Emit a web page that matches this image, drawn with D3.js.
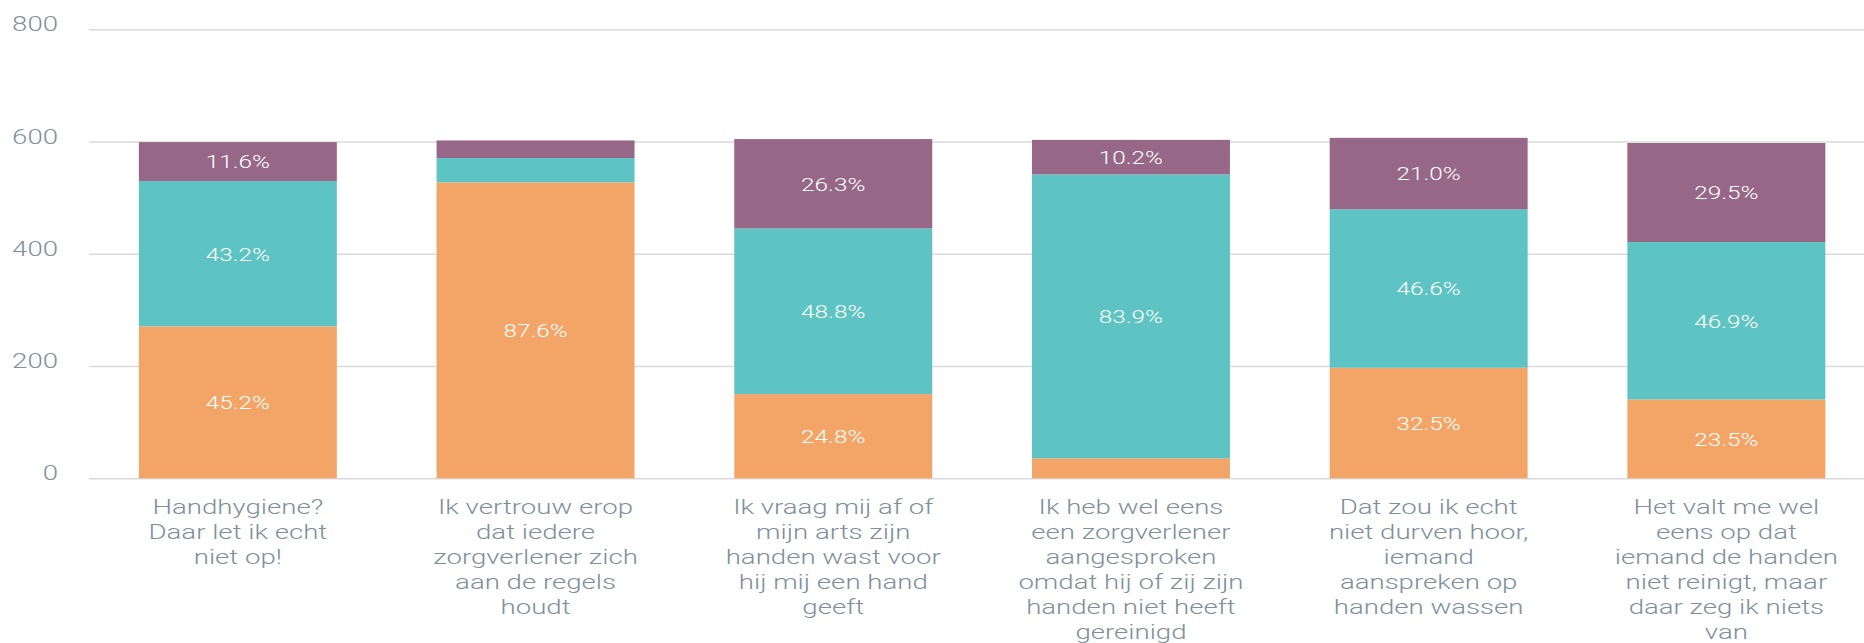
<!DOCTYPE html>
<html>
<head>
<meta charset="utf-8">
<script src="https://cdn.jsdelivr.net/npm/d3@7"></script>
<style>
  html, body { margin: 0; padding: 0; background: #ffffff; }
  svg { display: block; }
</style>
</head>
<body>
<svg id="chart" width="1864" height="643"></svg>
<script>
// ---- data ----
const categories = [
  "Handhygiene?\nDaar let ik echt\nniet op!",
  "Ik vertrouw erop\ndat iedere\nzorgverlener zich\naan de regels\nhoudt",
  "Ik vraag mij af of\nmijn arts zijn\nhanden wast voor\nhij mij een hand\ngeeft",
  "Ik heb wel eens\neen zorgverlener\naangesproken\nomdat hij of zij zijn\nhanden niet heeft\ngereinigd",
  "Dat zou ik echt\nniet durven hoor,\niemand\naanspreken op\nhanden wassen",
  "Het valt me wel\neens op dat\niemand de handen\nniet reinigt, maar\ndaar zeg ik niets\nvan"
];
const totals      = [599, 602, 605, 603, 606, 598];
const pctOrange   = [45.2, 87.6, 24.8, 5.9, 32.5, 23.5];
const pctTeal     = [43.2, 7.2, 48.8, 83.9, 46.6, 46.9];
const pctPurple   = [11.6, 5.2, 26.3, 10.2, 21.0, 29.5];
const seriesKeys  = ["orange", "teal", "purple"];
const seriesColors = ["#f3a568", "#5dc4c3", "#976788"];
const yTicks      = [0, 200, 400, 600, 800];

// ---- layout ----
const W = 1864, H = 643;
const plotLeft = 89, y0 = 478.3, yTop = 29.3;
const step = 297.7;
const FONT = "Roboto, 'Liberation Sans', Arial, sans-serif";
const sx = 1.38; // horizontal text stretch

const svg = d3.select("#chart");

const x = d3.scaleBand()
  .domain(d3.range(categories.length))
  .range([plotLeft, plotLeft + step * categories.length])
  .paddingInner(0.335)
  .paddingOuter(0.1675);

const y = d3.scaleLinear().domain([0, 800]).range([y0, yTop]);

const pcts = { orange: pctOrange, teal: pctTeal, purple: pctPurple };
const rows = categories.map((c, i) => {
  const r = { i };
  seriesKeys.forEach(k => { r[k] = pcts[k][i] * totals[i] / 100; });
  return r;
});
const stacked = d3.stack().keys(seriesKeys)(rows);
const color = d3.scaleOrdinal().domain(seriesKeys).range(seriesColors);

// ---- y axis with gridlines ----
const yAxis = d3.axisLeft(y)
  .tickValues(yTicks)
  .tickSize(-(W - plotLeft))
  .tickFormat(d3.format("d"));

const gy = svg.append("g")
  .attr("transform", `translate(${plotLeft},0)`)
  .call(yAxis);
gy.select(".domain").remove();
gy.selectAll(".tick line")
  .attr("stroke", "#dadada")
  .attr("stroke-width", 1.6);
gy.selectAll(".tick text")
  .attr("x", null)
  .attr("dy", null)
  .attr("text-anchor", "end")
  .attr("transform", `translate(-31,1.5) scale(${sx},1)`)
  .attr("fill", "#80919e")
  .attr("font-family", FONT)
  .attr("font-weight", 300)
  .attr("font-size", 20);

// ---- bars ----
const layers = svg.append("g").selectAll("g.layer")
  .data(stacked)
  .join("g")
  .attr("class", "layer")
  .attr("fill", d => color(d.key));

layers.selectAll("rect")
  .data(d => d.map(s => ({ s, key: d.key })))
  .join("rect")
  .attr("x", d => x(d.s.data.i))
  .attr("width", x.bandwidth())
  .attr("y", d => y(d.s[1]))
  .attr("height", d => y(d.s[0]) - y(d.s[1]));

// ---- value labels ----
const labelG = svg.append("g");
stacked.forEach(layer => {
  layer.forEach(s => {
    const p = pcts[layer.key][s.data.i];
    if (p < 10) return;
    const cx = x(s.data.i) + x.bandwidth() / 2;
    const cy = (y(s[0]) + y(s[1])) / 2;
    labelG.append("text")
      .attr("transform", `translate(${cx},${cy}) scale(${sx - 0.1},1)`)
      .attr("dy", "0.36em")
      .attr("text-anchor", "middle")
      .attr("fill", "#ffffff")
      .attr("font-family", FONT)
      .attr("font-weight", 300)
      .attr("font-size", 19)
      .text(p.toFixed(1) + "%");
  });
});

// ---- category labels ----
const catG = svg.append("g");
categories.forEach((c, i) => {
  const cx = x(i) + x.bandwidth() / 2;
  const t = catG.append("text")
    .attr("transform", `translate(${cx},${y0 + 36}) scale(${sx},1)`)
    .attr("text-anchor", "middle")
    .attr("fill", "#7f8f9c")
    .attr("font-family", FONT)
    .attr("font-weight", 300)
    .attr("font-size", 20);
  c.split("\n").forEach((line, j) => {
    t.append("tspan")
      .attr("x", 0)
      .attr("y", j * 25)
      .text(line);
  });
});
</script>
</body>
</html>
